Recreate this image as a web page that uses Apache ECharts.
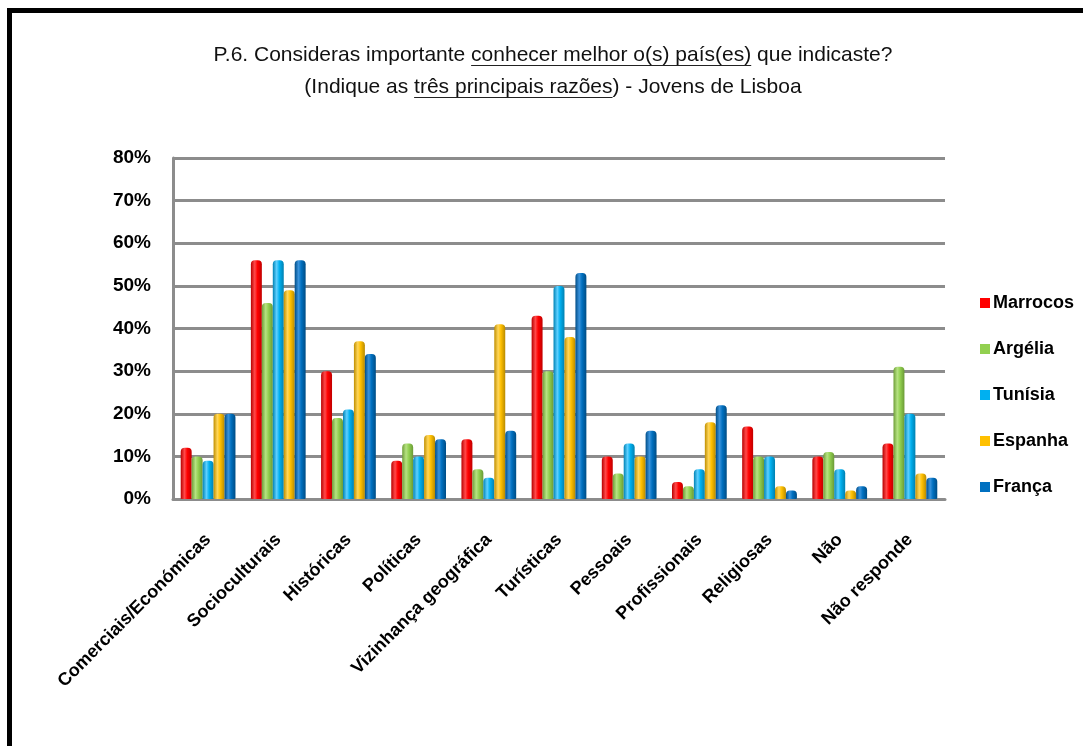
<!DOCTYPE html>
<html>
<head>
<meta charset="utf-8">
<script src="https://cdn.jsdelivr.net/npm/echarts@6/dist/echarts.min.js"></script>
<style>
html,body{margin:0;padding:0;background:#fff;}
#c{width:1083px;height:746px;}
</style>
</head>
<body>
<div id="c"></div>
<script>
var categories = ['Comerciais/Económicas','Socioculturais','Históricas','Políticas','Vizinhança geográfica','Turísticas','Pessoais','Profissionais','Religiosas','Não','Não responde'];
var seriesNames = ['Marrocos','Argélia','Tunísia','Espanha','França'];
var marrocos = [12, 56, 30, 9, 14, 43, 10, 4, 17, 10, 13];
var argelia  = [10, 46, 19, 13, 7, 30, 6, 3, 10, 11, 31];
var tunisia  = [9, 56, 21, 10, 5, 50, 13, 7, 10, 7, 20];
var espanha  = [20, 49, 37, 15, 41, 38, 10, 18, 3, 2, 6];
var franca   = [20, 56, 34, 14, 16, 53, 16, 22, 2, 3, 5];
var yTicks = [0, 10, 20, 30, 40, 50, 60, 70, 80];

var baseColors = ['#ff0000','#92d050','#00b0f0','#ffc000','#0070c0'];
var shades = [
  ['#b80000','#ff4a4a','#ff0000','#c00000'],
  ['#6e9e38','#b6e282','#92d050','#6a9a36'],
  ['#0083b5','#5fd0ff','#00b0f0','#0080b0'],
  ['#c08f00','#ffd65a','#ffc000','#b88a00'],
  ['#004d87','#3a93dc','#0070c0','#004c84']
];
var allData = [marrocos, argelia, tunisia, espanha, franca];
var fontN = '"Liberation Sans Narrow","Arial Narrow","Liberation Sans",Arial,sans-serif';

function grad(s){
  return {type:'linear',x:0,y:0,x2:1,y2:0,colorStops:[
    {offset:0,color:s[0]},{offset:0.35,color:s[1]},{offset:0.6,color:s[2]},{offset:1,color:s[3]}]};
}
var underline = {type:'linear',x:0,y:0,x2:0,y2:1,colorStops:[
  {offset:0,color:'rgba(0,0,0,0)'},{offset:0.9,color:'rgba(0,0,0,0)'},
  {offset:0.9,color:'#222'},{offset:0.97,color:'#222'},{offset:0.97,color:'rgba(0,0,0,0)'},{offset:1,color:'rgba(0,0,0,0)'}]};

var series = seriesNames.map(function(n,i){
  return {
    name:n, type:'bar', data:allData[i],
    barGap:'0%', barCategoryGap:'22%',
    itemStyle:{color:grad(shades[i]), borderRadius:[4,4,1,1]}
  };
});

var chart = echarts.init(document.getElementById('c'), null, {renderer:'canvas'});
chart.setOption({
  backgroundColor:'#fff',
  animation:false,
  color: baseColors,
  title:{
    left:548, top:34, textAlign:'center',
    text:'P.6. Consideras importante {u|conhecer melhor o(s) país(es)} que indicaste?\n(Indique as {u|três principais razões}) - Jovens de Lisboa',
    textStyle:{
      fontFamily:fontN, fontSize:21, fontWeight:'normal', color:'#111', lineHeight:32,
      rich:{
        u:{fontFamily:fontN, fontSize:21, color:'#111', lineHeight:32, height:24, backgroundColor:underline}
      }
    }
  },
  legend:{
    orient:'vertical', left:975, top:289,
    itemWidth:10, itemHeight:10, itemGap:28,
    icon:'rect',
    data:seriesNames.map(function(n,i){return {name:n, itemStyle:{color:baseColors[i]}};}),
    textStyle:{fontFamily:fontN, fontSize:18, fontWeight:'bold', color:'#000', lineHeight:18, padding:[0,0,0,-2]}
  },
  grid:{left:173, right:138, top:158, bottom:247, containLabel:false},
  xAxis:{
    type:'category', data:categories,
    axisLine:{show:true, lineStyle:{color:'#8c8c8c', width:3}},
    axisTick:{show:false},
    axisLabel:{rotate:45, interval:0, margin:38, fontFamily:fontN, fontSize:18, fontWeight:'bold', color:'#000'}
  },
  yAxis:{
    type:'value', min:0, max:80, interval:10,
    axisLine:{show:true, lineStyle:{color:'#8c8c8c', width:3}},
    axisTick:{show:false},
    splitLine:{show:true, lineStyle:{color:'#8c8c8c', width:3}},
    axisLabel:{margin:22, fontFamily:fontN, fontSize:19, fontWeight:'bold', color:'#000',
      formatter:function(v){return v+'%';}}
  },
  graphic:[
    {type:'rect', left:7, top:8, shape:{width:1100, height:5}, style:{fill:'#000'}, silent:true},
    {type:'rect', left:7, top:8, shape:{width:5, height:760}, style:{fill:'#000'}, silent:true}
  ],
  series: series
});
</script>
</body>
</html>
